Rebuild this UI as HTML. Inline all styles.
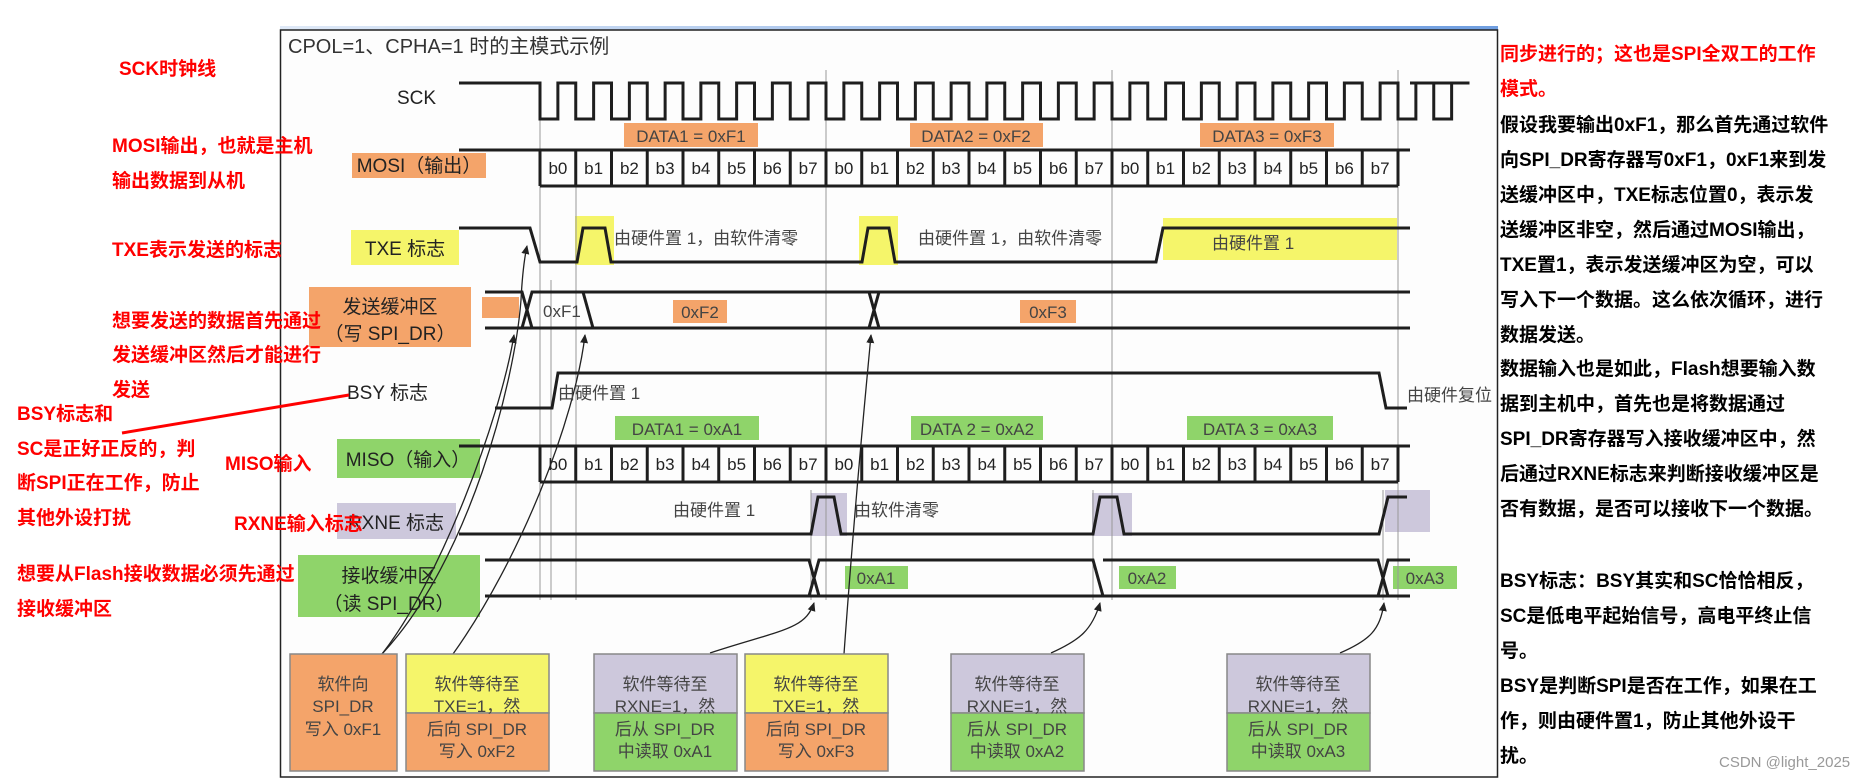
<!DOCTYPE html>
<html><head><meta charset="utf-8"><style>
html,body{margin:0;padding:0;background:#fff;}
body{width:1871px;height:781px;overflow:hidden;position:relative;font-family:"Liberation Sans","Noto Sans CJK SC",sans-serif;}
svg{position:absolute;left:0;top:0;}
.r{position:absolute;color:#f00;font-weight:bold;font-size:19px;white-space:nowrap;font-family:"Liberation Sans","Noto Sans CJK SC",sans-serif;line-height:1;}
.k{position:absolute;color:#000;font-weight:bold;font-size:19px;white-space:nowrap;left:1500px;line-height:1;font-family:"Liberation Sans","Noto Sans CJK SC",sans-serif;}
</style></head><body>
<svg width="1871" height="781" viewBox="0 0 1871 781" font-family="Liberation Sans, Noto Sans CJK SC, sans-serif">
<defs>
<linearGradient id="bl" x1="0" x2="1"><stop offset="0" stop-color="#dfe9f7"/><stop offset="1" stop-color="#6f9ee0"/></linearGradient>
<marker id="ah" markerWidth="10" markerHeight="10" refX="8" refY="5" orient="auto" markerUnits="userSpaceOnUse"><path d="M0,1 L9,5 L0,9 Z" fill="#222"/></marker>
</defs>
<!-- frame -->
<rect x="280" y="26" width="1218" height="4" fill="url(#bl)"/>
<rect x="280.5" y="30" width="1217" height="747" fill="#fdfdfd" stroke="#222" stroke-width="1.5"/>
<text x="288" y="53" font-size="20" fill="#333">CPOL=1、CPHA=1 时的主模式示例</text>

<!-- highlight boxes -->
<rect x="624" y="123" width="134" height="24" fill="#f4a46a"/>
<rect x="910" y="123" width="133" height="24" fill="#f4a46a"/>
<rect x="1200" y="123" width="134" height="24" fill="#f4a46a"/>
<rect x="352" y="153" width="134" height="25" fill="#f4a46a"/>
<rect x="351" y="230" width="108" height="35" fill="#f5f56a"/>
<rect x="575" y="216" width="39" height="49" fill="#f5f56a"/>
<rect x="859" y="216" width="39" height="49" fill="#f5f56a"/>
<rect x="1163" y="218" width="234" height="42" fill="#f5f56a"/>
<rect x="309" y="287" width="162" height="60" fill="#f4a46a"/>
<rect x="482" y="297" width="37" height="21" fill="#f4a46a"/>
<rect x="673" y="300" width="54" height="23" fill="#f4a46a"/>
<rect x="1020" y="300" width="56" height="23" fill="#f4a46a"/>
<rect x="615" y="416" width="144" height="24" fill="#8fd46a"/>
<rect x="911" y="416" width="132" height="24" fill="#8fd46a"/>
<rect x="1187" y="416" width="146" height="24" fill="#8fd46a"/>
<rect x="337" y="439" width="143" height="39" fill="#8fd46a"/>
<rect x="337" y="503" width="119" height="36" fill="#cdc8dc"/>
<rect x="811" y="493" width="36" height="43" fill="#cdc8dc"/>
<rect x="1092" y="493" width="40" height="43" fill="#cdc8dc"/>
<rect x="1385" y="490" width="45" height="42" fill="#cdc8dc"/>
<rect x="298" y="555" width="182" height="62" fill="#8fd46a"/>
<rect x="845" y="566" width="63" height="23" fill="#8fd46a"/>
<rect x="1119" y="566" width="57" height="23" fill="#8fd46a"/>
<rect x="1393" y="566" width="64" height="23" fill="#8fd46a"/>

<!-- guide lines -->
<g stroke="#999" stroke-width="1">
<path d="M540,85V600 M551,280V600 M576,185V600 M826,70V600 M1112,70V600 M1398,70V600 M1383,490V600 M1093,490V600 M811,490V600"/>
</g>

<!-- signals -->
<g stroke="#1e1e1e" stroke-width="3" fill="none">
<path d="M459,83 H540 V119 h17.875 V83 h17.875 V119 h17.875 V83 h17.875 V119 h17.875 V83 h17.875 V119 h17.875 V83 h17.875 V119 h17.875 V83 h17.875 V119 h17.875 V83 h17.875 V119 h17.875 V83 h17.875 V119 h17.875 V83 h17.875 V119 h17.875 V83 h17.875 V119 h17.875 V83 h17.875 V119 h17.875 V83 h17.875 V119 h17.875 V83 h17.875 V119 h17.875 V83 h17.875 V119 h17.875 V83 h17.875 V119 h17.875 V83 h17.875 V119 h17.875 V83 h17.875 V119 h17.875 V83 h17.875 V119 h17.875 V83 h17.875 V119 h17.875 V83 h17.875 V119 h17.875 V83 h17.875 V119 h17.875 V83 h17.875 V119 h17.875 V83 h17.875 V119 h17.875 V83 h17.875 V119 h17.875 V83 h17.875 V119 h17.875 V83 h17.875 V119 h17.875 V83 h17.875 H1410"/>
<path d="M459,150 H1410 M540,186 H1398"/>
<path d="M540,150V186 M575.75,150V186 M611.5,150V186 M647.25,150V186 M683,150V186 M718.75,150V186 M754.5,150V186 M790.25,150V186 M826,150V186 M861.75,150V186 M897.5,150V186 M933.25,150V186 M969,150V186 M1004.75,150V186 M1040.5,150V186 M1076.25,150V186 M1112,150V186 M1147.75,150V186 M1183.5,150V186 M1219.25,150V186 M1255,150V186 M1290.75,150V186 M1326.5,150V186 M1362.25,150V186 M1398,150V186"/>
<path d="M459,228 H530 L540,262 H577 L583,228 H605 L611,262 H862 L868,228 H889 L895,262 H1156 L1163,228 H1410"/>
<path d="M485,292 H522 L532,328 H485 M485,328 H522 L532,292 H583 L593,328 H532 M583,292 H869 L879,328 H593 M869,292 H1410 M879,328 H1410 M869,328 L879,292"/>
<path d="M495,408 H552 L558,373 H1379 L1386,408 H1407"/>
<path d="M459,446 H1410 M540,482 H1398"/>
<path d="M540,446V482 M575.75,446V482 M611.5,446V482 M647.25,446V482 M683,446V482 M718.75,446V482 M754.5,446V482 M790.25,446V482 M826,446V482 M861.75,446V482 M897.5,446V482 M933.25,446V482 M969,446V482 M1004.75,446V482 M1040.5,446V482 M1076.25,446V482 M1112,446V482 M1147.75,446V482 M1183.5,446V482 M1219.25,446V482 M1255,446V482 M1290.75,446V482 M1326.5,446V482 M1362.25,446V482 M1398,446V482"/>
<path d="M459,534 H811 L818,497 H834 L841,534 H1093 L1100,497 H1117 L1124,534 H1379 L1388,497 H1407"/>
<path d="M485,560 H809 L819,596 H485 M809,596 L819,560 H1093 L1103,596 H819 M1093,560 L1103,596 M1103,560 H1378 L1388,596 H1103 M1378,596 L1388,560 H1410 M1388,596 H1410"/>
</g>

<!-- arrows -->
<g stroke="#222" stroke-width="1.3" fill="none" marker-end="url(#ah)">
<path d="M382,654 C440,580 500,420 514,335"/>
<path d="M453,654 C520,560 575,420 585,335"/>
<path d="M382,654 C470,560 515,380 521,300 C522,280 524,260 527,246"/>
<path d="M844,654 C855,500 865,400 871,335"/>
<path d="M710,653 C780,630 805,630 814,603"/>
<path d="M1051,653 C1080,640 1092,630 1100,603"/>
<path d="M1340,653 C1370,640 1380,630 1384,603"/>
</g>

<!-- labels -->
<g fill="#222" font-size="19">
<text x="397" y="104">SCK</text>
<text x="419" y="172" text-anchor="middle">MOSI（输出）</text>
<text x="405" y="255" text-anchor="middle">TXE 标志</text>
<text x="390" y="313" text-anchor="middle">发送缓冲区</text>
<text x="390" y="340" text-anchor="middle">（写 SPI_DR）</text>
<text x="347" y="399">BSY 标志</text>
<text x="408" y="466" text-anchor="middle">MISO（输入）</text>
<text x="396" y="529" text-anchor="middle">RXNE 标志</text>
<text x="389" y="582" text-anchor="middle">接收缓冲区</text>
<text x="389" y="610" text-anchor="middle">（读 SPI_DR）</text>
</g>
<g fill="#444" font-size="17">
<text x="691" y="142" text-anchor="middle">DATA1 = 0xF1</text>
<text x="976" y="142" text-anchor="middle">DATA2 = 0xF2</text>
<text x="1267" y="142" text-anchor="middle">DATA3 = 0xF3</text>
<text x="687" y="435" text-anchor="middle">DATA1 = 0xA1</text>
<text x="977" y="435" text-anchor="middle">DATA 2 = 0xA2</text>
<text x="1260" y="435" text-anchor="middle">DATA 3 = 0xA3</text>
<text x="614" y="244">由硬件置 1，由软件清零</text>
<text x="918" y="244">由硬件置 1，由软件清零</text>
<text x="1212" y="249">由硬件置 1</text>
<text x="543" y="317">0xF1</text>
<text x="700" y="318" text-anchor="middle">0xF2</text>
<text x="1048" y="318" text-anchor="middle">0xF3</text>
<text x="558" y="399">由硬件置 1</text>
<text x="1407" y="401">由硬件复位</text>
<text x="673" y="516">由硬件置 1</text>
<text x="854" y="516">由软件清零</text>
<text x="876" y="584" text-anchor="middle">0xA1</text>
<text x="1147" y="584" text-anchor="middle">0xA2</text>
<text x="1425" y="584" text-anchor="middle">0xA3</text>
</g>
<g fill="#222" font-size="17" text-anchor="middle">
<text x="557.9" y="174">b0</text><text x="593.6" y="174">b1</text><text x="629.4" y="174">b2</text><text x="665.1" y="174">b3</text><text x="700.9" y="174">b4</text><text x="736.6" y="174">b5</text><text x="772.4" y="174">b6</text><text x="808.1" y="174">b7</text>
<text x="843.9" y="174">b0</text><text x="879.6" y="174">b1</text><text x="915.4" y="174">b2</text><text x="951.1" y="174">b3</text><text x="986.9" y="174">b4</text><text x="1022.6" y="174">b5</text><text x="1058.4" y="174">b6</text><text x="1094.1" y="174">b7</text>
<text x="1129.9" y="174">b0</text><text x="1165.6" y="174">b1</text><text x="1201.4" y="174">b2</text><text x="1237.1" y="174">b3</text><text x="1272.9" y="174">b4</text><text x="1308.6" y="174">b5</text><text x="1344.4" y="174">b6</text><text x="1380.1" y="174">b7</text>
<text x="557.9" y="470">b0</text><text x="593.6" y="470">b1</text><text x="629.4" y="470">b2</text><text x="665.1" y="470">b3</text><text x="700.9" y="470">b4</text><text x="736.6" y="470">b5</text><text x="772.4" y="470">b6</text><text x="808.1" y="470">b7</text>
<text x="843.9" y="470">b0</text><text x="879.6" y="470">b1</text><text x="915.4" y="470">b2</text><text x="951.1" y="470">b3</text><text x="986.9" y="470">b4</text><text x="1022.6" y="470">b5</text><text x="1058.4" y="470">b6</text><text x="1094.1" y="470">b7</text>
<text x="1129.9" y="470">b0</text><text x="1165.6" y="470">b1</text><text x="1201.4" y="470">b2</text><text x="1237.1" y="470">b3</text><text x="1272.9" y="470">b4</text><text x="1308.6" y="470">b5</text><text x="1344.4" y="470">b6</text><text x="1380.1" y="470">b7</text>
</g>

<!-- bottom boxes -->
<g stroke="#888" stroke-width="1.5">
<rect x="290" y="654" width="107" height="117" fill="#f4a46a"/>
<rect x="406" y="654" width="143" height="59" fill="#f5f56a"/><rect x="406" y="713" width="143" height="58" fill="#f4a46a"/>
<rect x="594" y="654" width="143" height="59" fill="#cdc8dc"/><rect x="594" y="713" width="143" height="58" fill="#8fd46a"/>
<rect x="745" y="654" width="143" height="59" fill="#f5f56a"/><rect x="745" y="713" width="143" height="58" fill="#f4a46a"/>
<rect x="951" y="654" width="133" height="59" fill="#cdc8dc"/><rect x="951" y="713" width="133" height="58" fill="#8fd46a"/>
<rect x="1227" y="654" width="143" height="59" fill="#cdc8dc"/><rect x="1227" y="713" width="143" height="58" fill="#8fd46a"/>
</g>
<g fill="#444" font-size="17" text-anchor="middle">
<text x="343" y="690">软件向</text><text x="343" y="712">SPI_DR</text><text x="343" y="735">写入 0xF1</text>
<text x="477" y="690">软件等待至</text><text x="477" y="712">TXE=1，然</text><text x="477" y="735">后向 SPI_DR</text><text x="477" y="757">写入 0xF2</text>
<text x="665" y="690">软件等待至</text><text x="665" y="712">RXNE=1，然</text><text x="665" y="735">后从 SPI_DR</text><text x="665" y="757">中读取 0xA1</text>
<text x="816" y="690">软件等待至</text><text x="816" y="712">TXE=1，然</text><text x="816" y="735">后向 SPI_DR</text><text x="816" y="757">写入 0xF3</text>
<text x="1017" y="690">软件等待至</text><text x="1017" y="712">RXNE=1，然</text><text x="1017" y="735">后从 SPI_DR</text><text x="1017" y="757">中读取 0xA2</text>
<text x="1298" y="690">软件等待至</text><text x="1298" y="712">RXNE=1，然</text><text x="1298" y="735">后从 SPI_DR</text><text x="1298" y="757">中读取 0xA3</text>
</g>
<line x1="122" y1="433" x2="349" y2="395" stroke="#f00" stroke-width="3"/>
<text x="1719" y="767" font-size="15" fill="#999">CSDN @light_2025</text>
</svg>

<div class="r" style="left:119px;top:60px">SCK时钟线</div>
<div class="r" style="left:112px;top:137px">MOSI输出，也就是主机</div>
<div class="r" style="left:112px;top:172px">输出数据到从机</div>
<div class="r" style="left:112px;top:241px">TXE表示发送的标志</div>
<div class="r" style="left:112px;top:312px">想要发送的数据首先通过</div>
<div class="r" style="left:112px;top:346px">发送缓冲区然后才能进行</div>
<div class="r" style="left:112px;top:381px">发送</div>
<div class="r" style="left:17px;top:405px">BSY标志和</div>
<div class="r" style="left:17px;top:440px">SC是正好正反的，判</div>
<div class="r" style="left:17px;top:474px">断SPI正在工作，防止</div>
<div class="r" style="left:17px;top:509px">其他外设打扰</div>
<div class="r" style="left:225px;top:455px">MISO输入</div>
<div class="r" style="left:234px;top:515px">RXNE输入标志</div>
<div class="r" style="left:17px;top:565px">想要从Flash接收数据必须先通过</div>
<div class="r" style="left:17px;top:600px">接收缓冲区</div>

<div class="k" style="top:45px;color:#f00">同步进行的；这也是SPI全双工的工作</div>
<div class="k" style="top:80px;color:#f00">模式。</div>
<div class="k" style="top:116px">假设我要输出0xF1，那么首先通过软件</div>
<div class="k" style="top:151px">向SPI_DR寄存器写0xF1，0xF1来到发</div>
<div class="k" style="top:186px">送缓冲区中，TXE标志位置0，表示发</div>
<div class="k" style="top:221px">送缓冲区非空，然后通过MOSI输出，</div>
<div class="k" style="top:256px">TXE置1，表示发送缓冲区为空，可以</div>
<div class="k" style="top:291px">写入下一个数据。这么依次循环，进行</div>
<div class="k" style="top:326px">数据发送。</div>
<div class="k" style="top:360px">数据输入也是如此，Flash想要输入数</div>
<div class="k" style="top:395px">据到主机中，首先也是将数据通过</div>
<div class="k" style="top:430px">SPI_DR寄存器写入接收缓冲区中，然</div>
<div class="k" style="top:465px">后通过RXNE标志来判断接收缓冲区是</div>
<div class="k" style="top:500px">否有数据，是否可以接收下一个数据。</div>
<div class="k" style="top:572px">BSY标志：BSY其实和SC恰恰相反，</div>
<div class="k" style="top:607px">SC是低电平起始信号，高电平终止信</div>
<div class="k" style="top:642px">号。</div>
<div class="k" style="top:677px">BSY是判断SPI是否在工作，如果在工</div>
<div class="k" style="top:712px">作，则由硬件置1，防止其他外设干</div>
<div class="k" style="top:747px">扰。</div>
</body></html>
